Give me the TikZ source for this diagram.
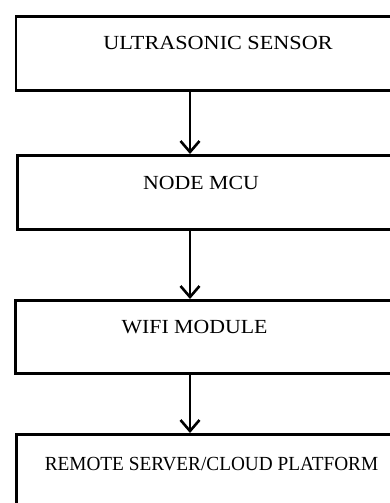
\documentclass[tikz,border=0pt]{standalone}
\usepackage{fontspec}
\setmainfont{Liberation Serif}
\usetikzlibrary{arrows.meta}
\begin{document}
\begin{tikzpicture}[x=1pt,y=-1pt,
  blk/.style={draw=black,line width=2.8pt,rectangle,inner sep=0pt,anchor=north west},
  lbl/.style={font=\fontsize{20}{24}\selectfont,inner sep=0pt,anchor=base},
  arr/.style={line width=2.6pt,-{Straight Barb[length=11pt,width=19pt,line width=2.6pt]}}]
\useasboundingbox (0,0) rectangle (390,503);
\clip (0,0) rectangle (390,503);
\node[blk,minimum width=400pt,minimum height=74pt] (b1) at (14.5,15) {};
\node[blk,minimum width=400pt,minimum height=74pt] (b2) at (16,154) {};
\node[blk,minimum width=400pt,minimum height=73pt] (b3) at (14,299) {};
\node[blk,minimum width=400pt,minimum height=100pt] (b4) at (15,433) {};
\node[lbl] (t1) at (218,49) {\scalebox{1.11}[1]{ULTRASONIC SENSOR}};
\node[lbl] (t2) at (201,189) {\scalebox{1.09}[1]{NODE MCU}};
\node[lbl] (t3) at (194.5,333) {\scalebox{1.09}[1]{WIFI MODULE}};
\node[lbl] (t4) at (211.5,470) {\scalebox{0.963}[1]{REMOTE SERVER/CLOUD PLATFORM}};
\coordinate (ax) at (190,0);
\draw[arr] (b1.south -| ax) -- (b2.north -| ax);
\draw[arr] (b2.south -| ax) -- (b3.north -| ax);
\draw[arr] (b3.south -| ax) -- (b4.north -| ax);
\end{tikzpicture}
\end{document}
